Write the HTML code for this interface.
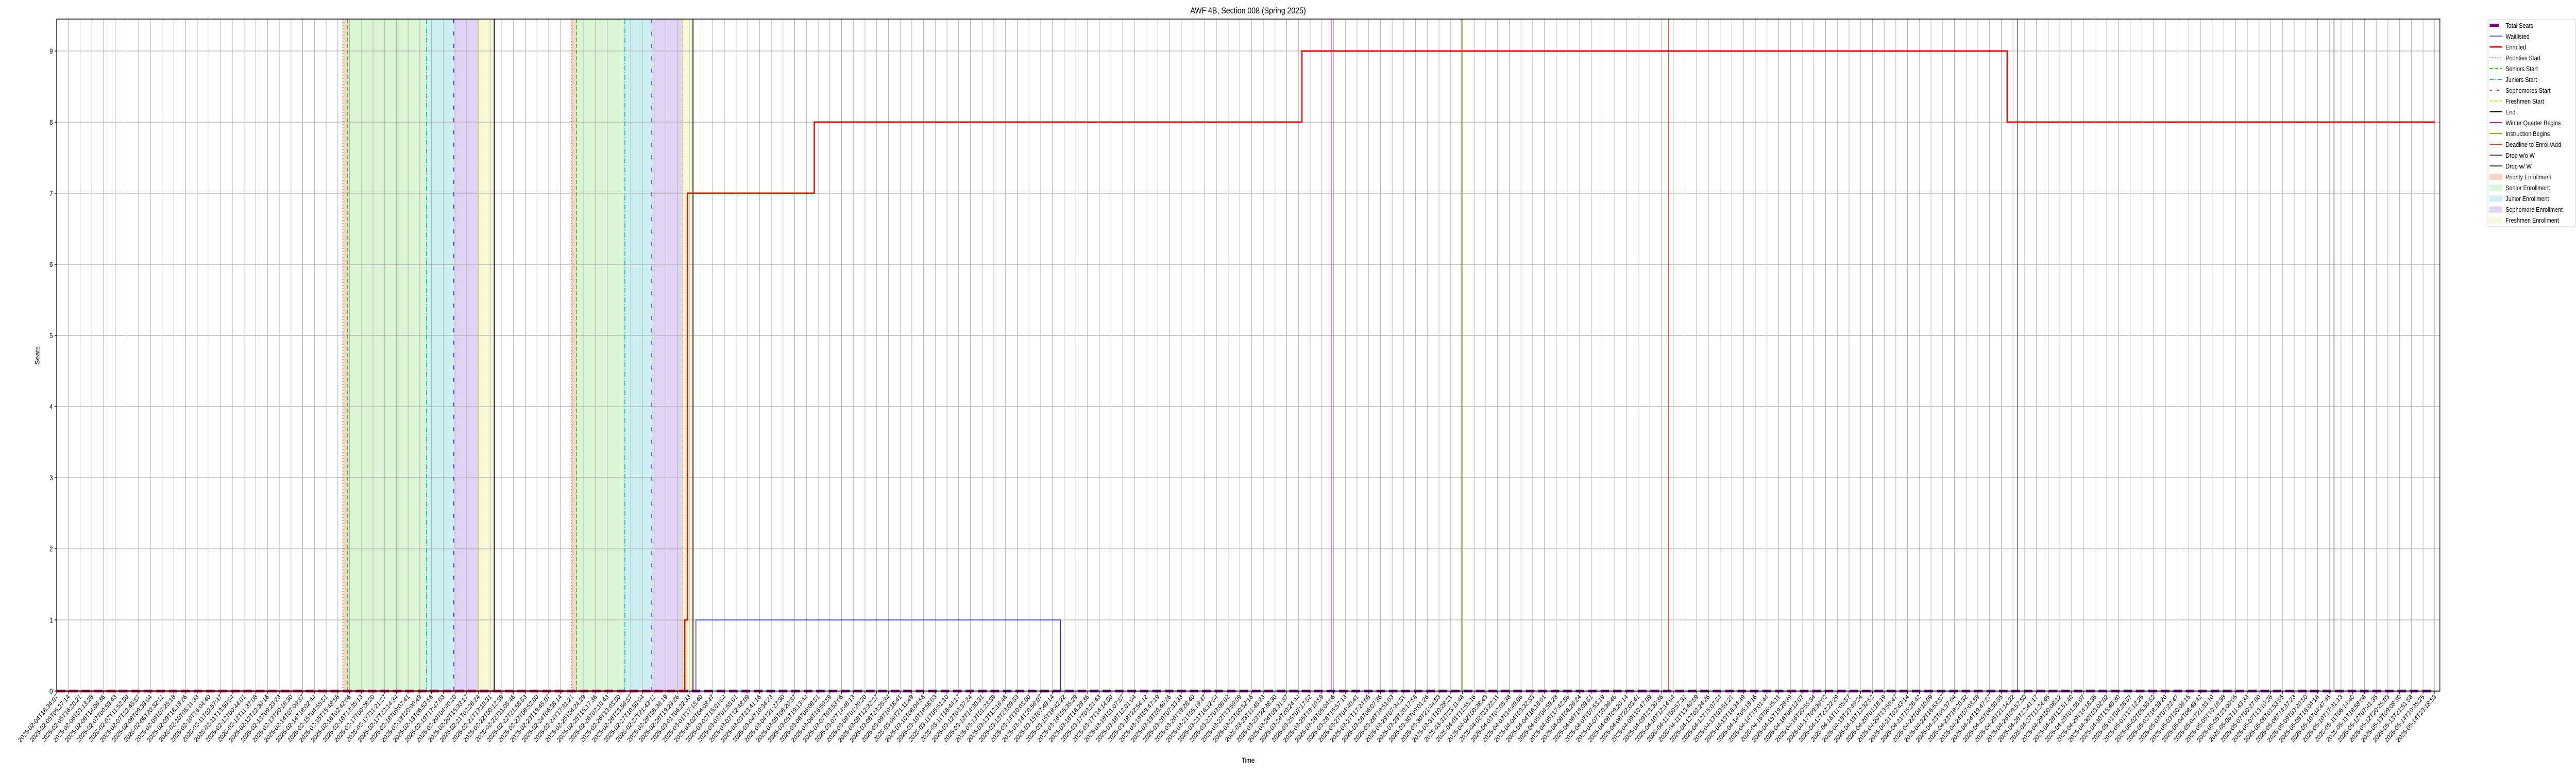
<!DOCTYPE html>
<html><head><meta charset="utf-8"><style>
html,body{margin:0;padding:0;background:#fff;overflow:hidden;width:100%;height:100%;}
svg{display:block;position:absolute;left:0;top:0;width:100%;height:100%;font-family:"Liberation Sans","DejaVu Sans",sans-serif;}
</style></head><body>
<svg id="chart" viewBox="0 0 6000 1500" preserveAspectRatio="none" xmlns="http://www.w3.org/2000/svg">
<rect width="6000" height="1500" fill="#fff"/>
<text x="2907" y="26" font-size="17" text-anchor="middle">AWF 4B, Section 008 (Spring 2025)</text>
<g id="spans"></g><g id="grid"></g><g id="vlines"></g><g id="series"></g><g id="axes"></g>
<text x="0" y="0" font-size="14" text-anchor="middle" transform="translate(92,690) rotate(-90)">Seats</text>
<text x="2907" y="1480" font-size="14" text-anchor="middle">Time</text>
<g id="legend"></g>
</svg>
<script>
// ---- data (x in tick-index units, 0..203) ----
const tickCount = 204;
const timeAnchorIdx = [0, 110, 203];
const timeAnchorMs = [Date.UTC(2025,1,4,18,34,7), Date.UTC(2025,2,26,15,57,13), Date.UTC(2025,4,14,23,18,53)];
const yTicks = [0,1,2,3,4,5,6,7,8,9];
const enrolledX = [0, 53.62, 53.84, 64.67, 106.3, 166.5, 203];
const enrolledY = [0, 1, 7, 8, 9, 8, 8];
const waitX = [0, 54.57, 85.7, 203];
const waitY = [0, 1, 0, 0];
const totalSeatsX = [0, 203];
const totalSeatsY = [0, 0];
const priorityStarts = [24.43, 43.93];
const seniorStarts = [24.84, 44.37];
const juniorStarts = [31.57, 48.5];
const sophStarts = [33.9, 50.8];
const freshStarts = [35.99, 53.44];
const endTimes = [37.35, 54.32];
const eventNames = ['winter-quarter-begins','instruction-begins','deadline-enroll-add','drop-without-w','drop-with-w'];
const eventX = [108.8, 119.9, 137.6, 167.4, 194.4];
const eventColors = ['#e61ca0','#8fb300','#d9441a','#3a2d8f','#2b3a5c'];

const NS='http://www.w3.org/2000/svg';
const L=132,R=5683,T=37,B=1341;
const xs=i=>L+i*(R-12-L)/(tickCount-1);
const ys=v=>B-v*138;
function mk(tag,attrs,parent){const e=document.createElementNS(NS,tag);for(const k in attrs)e.setAttribute(k,attrs[k]);parent.appendChild(e);return e;}
const gSp=document.getElementById('spans'),gG=document.getElementById('grid'),gV=document.getElementById('vlines'),gS=document.getElementById('series'),gA=document.getElementById('axes'),gL=document.getElementById('legend');

const spanDefs=[[priorityStarts,seniorStarts,'#f6d5c8','priority-enrollment-span'],[seniorStarts,juniorStarts,'#daf5d3','senior-enrollment-span'],[juniorStarts,sophStarts,'#cdf1f3','junior-enrollment-span'],[sophStarts,freshStarts,'#e1d3f5','sophomore-enrollment-span'],[freshStarts,endTimes,'#f8f8d9','freshmen-enrollment-span']];
spanDefs.forEach(d=>{for(let k=0;k<d[0].length;k++){const r=mk('rect',{x:xs(d[0][k]),y:T,width:xs(d[1][k])-xs(d[0][k]),height:B-T,fill:d[2]},gSp);

}});

function timeAt(i){let k=0;while(k<timeAnchorIdx.length-2&&i>timeAnchorIdx[k+1])k++;
const f=(i-timeAnchorIdx[k])/(timeAnchorIdx[k+1]-timeAnchorIdx[k]);return timeAnchorMs[k]+f*(timeAnchorMs[k+1]-timeAnchorMs[k]);}
const fmt=t=>new Date(Math.round(t/1000)*1000).toISOString().slice(0,19);
for(let i=0;i<tickCount;i++){const x=xs(i);
const gl=mk('line',{x1:x,x2:x,y1:T,y2:B,stroke:'#b0b0b0','stroke-width':1.2},gG);


mk('line',{x1:x,x2:x,y1:B,y2:B+5,stroke:'#000','stroke-width':1.2},gA);
const t=mk('text',{x:0,y:0,'font-size':13,'text-anchor':'end',transform:`translate(${x+4},${B+12}) rotate(-45)`},gA);t.textContent=fmt(timeAt(i));

}
yTicks.forEach(v=>{const y=ys(v);
const gl=mk('line',{x1:L,x2:R,y1:y,y2:y,stroke:'#b0b0b0','stroke-width':1.2},gG);


mk('line',{x1:L-5,x2:L,y1:y,y2:y,stroke:'#000','stroke-width':1.2},gA);
const t=mk('text',{x:L-9,y:y+5,'font-size':14,'text-anchor':'end'},gA);t.textContent=v;

});

function vl(arr,color,dash,w,name){arr.forEach(v=>{const l=mk('line',{x1:xs(v),x2:xs(v),y1:T,y2:B,stroke:color,'stroke-width':w,'stroke-dasharray':dash},gV);

});}
vl(priorityStarts,'#ee6a2f','2 4',2,'priorities-start-line');
vl(seniorStarts,'#3acc12','8 4',2,'seniors-start-line');
vl(juniorStarts,'#13c4d2','10 3 2 3',2,'juniors-start-line');
vl(sophStarts,'#6a24e0','8 16',2,'sophomores-start-line');
vl(freshStarts,'#dede20','6 2 2 2',2,'freshmen-start-line');
vl(endTimes,'#000','none',2,'end-line');
eventX.forEach((v,i)=>{const l=mk('line',{x1:xs(v),x2:xs(v),y1:T,y2:B,stroke:eventColors[i],'stroke-width':1.5},gV);

});

function stepPath(X,Y){let d=`M${xs(X[0])},${ys(Y[0])}`;for(let i=1;i<X.length;i++){d+=`L${xs(X[i])},${ys(Y[i-1])}L${xs(X[i])},${ys(Y[i])}`;}return d;}
const ts=mk('path',{d:stepPath(totalSeatsX,totalSeatsY),stroke:'#800080',fill:'none','stroke-width':5,'stroke-dasharray':'20 9'},gS);


const wl=mk('path',{d:stepPath(waitX,waitY),stroke:'#1a1aff',fill:'none','stroke-width':1.6},gS);


const en=mk('path',{d:stepPath(enrolledX,enrolledY),stroke:'#ff0000',fill:'none','stroke-width':3},gS);



mk('rect',{x:L,y:T,width:R-L,height:B-T,fill:'none',stroke:'#000','stroke-width':1.5},gA);

const leg=[['Total Seats','line','#800080',6,'none'],['Waitlisted','line','#1a1aff',1.6,'none'],['Enrolled','line','#ff0000',3,'none'],['Priorities Start','line','#ee6a2f',2,'2 4'],['Seniors Start','line','#3acc12',2,'8 4'],['Juniors Start','line','#13c4d2',2,'10 3 2 3'],['Sophomores Start','line','#6a24e0',2,'5 12'],['Freshmen Start','line','#dede20',2,'6 2 2 2'],['End','line','#000',2,'none'],['Winter Quarter Begins','line','#e61ca0',2,'none'],['Instruction Begins','line','#8fb300',2,'none'],['Deadline to Enroll/Add','line','#d9441a',2,'none'],['Drop w/o W','line','#3a2d8f',2,'none'],['Drop w/ W','line','#2b3a5c',2,'none'],['Priority Enrollment','patch','#f6d5c8'],['Senior Enrollment','patch','#daf5d3'],['Junior Enrollment','patch','#cdf1f3'],['Sophomore Enrollment','patch','#e1d3f5'],['Freshmen Enrollment','patch','#f8f8d9']];
mk('rect',{x:5795,y:38,width:204,height:402,fill:'#fff',stroke:'#ccc','stroke-width':1,rx:3},gL);
leg.forEach((e,i)=>{const y=49+i*21;const g=mk('g',{},gL);


if(e[1]==='line'){mk('line',{x1:5799,x2:e[0]==='Total Seats'?5820:5828,y1:y,y2:y,stroke:e[2],'stroke-width':e[3],'stroke-dasharray':e[4]},g);}
else{mk('rect',{x:5799,y:y-5,width:29,height:11,fill:e[2],stroke:e[2]},g);}
const t=mk('text',{x:5836,y:y+5,'font-size':13},g);t.textContent=e[0];});
</script>
</body></html>
